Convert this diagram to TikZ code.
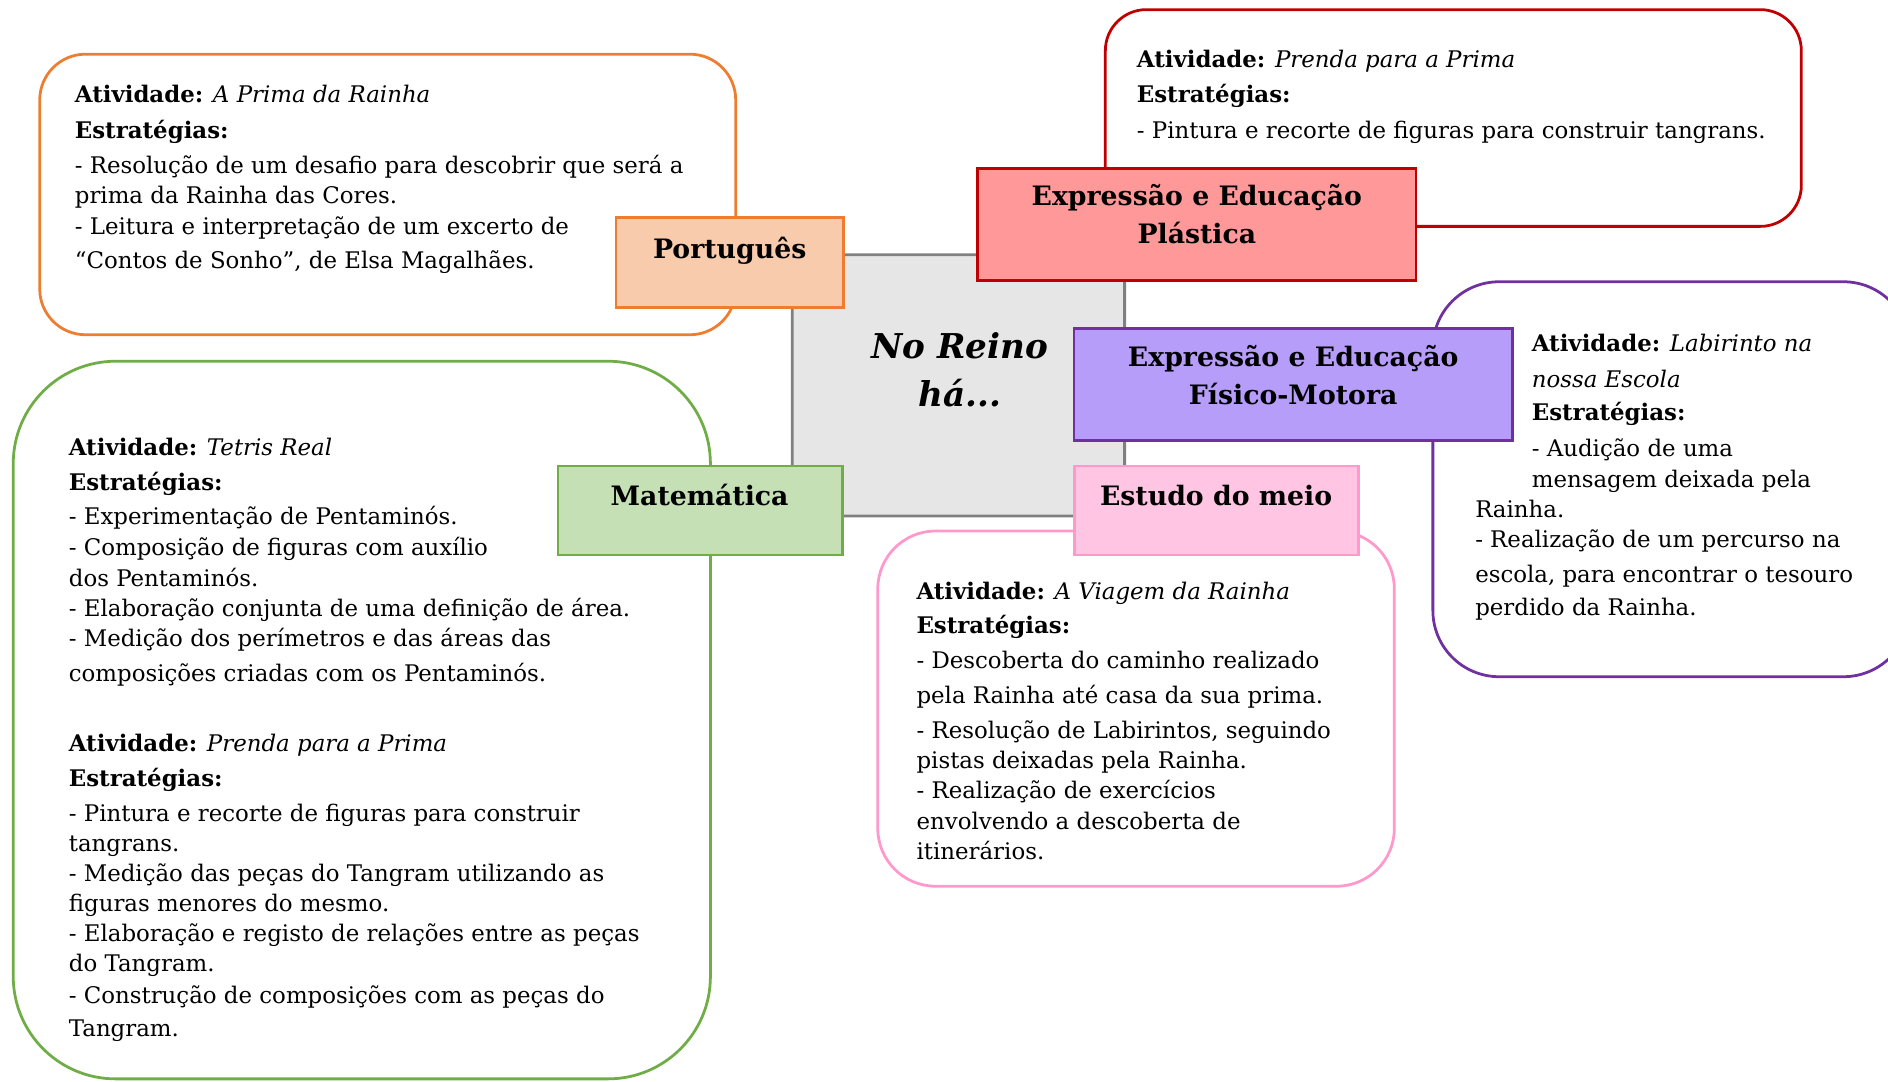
\documentclass[tikz,border=0pt]{standalone}
\usepackage{fontspec}
\setmainfont{DejaVu Serif}
\definecolor{orB}{HTML}{ED7D31}\definecolor{orF}{HTML}{F8CBAD}
\definecolor{rdB}{HTML}{C00000}\definecolor{rdF}{HTML}{FF9999}
\definecolor{puB}{HTML}{7030A0}\definecolor{puF}{HTML}{B79DFA}
\definecolor{grB}{HTML}{70AD47}\definecolor{grF}{HTML}{C5E0B4}
\definecolor{piB}{HTML}{FF99CC}\definecolor{piF}{HTML}{FFC5E3}
\definecolor{gyB}{HTML}{808080}\definecolor{gyF}{HTML}{E6E6E6}
\tikzset{
  callout/.style={rectangle, fill=white, line width=2.3pt, anchor=north west, inner sep=0pt, outer sep=0pt},
  subj/.style={rectangle, line width=2.3pt, anchor=north west, inner sep=0pt, outer sep=0pt},
  title/.style={font=\fontsize{22.2}{31.6}\selectfont\bfseries, align=center, anchor=base, inner sep=0pt},
  body/.style={font=\fontsize{19}{25}\selectfont, align=left, anchor=base west, inner sep=0pt},
}
\newcommand{\At}[1]{\textbf{Atividade:} \textit{#1}}
\newcommand{\Es}{\textbf{Estratégias:}}
\begin{document}
\begin{tikzpicture}[x=1pt,y=-1pt]
\useasboundingbox (0,0) rectangle (1568,898);
\clip (0,0) rectangle (1568,898);
% callouts
\node[callout, draw=orB, rounded corners=38pt, minimum width=578pt, minimum height=233pt] (cpor) at (33,45) {};
\node[callout, draw=rdB, rounded corners=34pt, minimum width=578pt, minimum height=180pt] (cexp) at (918,8) {};
\node[callout, draw=puB, rounded corners=55pt, minimum width=396pt, minimum height=328pt] (cfis) at (1190,234) {};
\node[callout, draw=grB, rounded corners=85pt, minimum width=579pt, minimum height=596pt] (cmat) at (11,300) {};
\node[callout, draw=piB, rounded corners=48pt, minimum width=429pt, minimum height=295pt] (cest) at (729,441) {};
% centre
\node[subj, draw=gyB, fill=gyF, rounded corners=11pt, minimum width=276pt, minimum height=217pt] (centre) at (658,211.5) {};
\node[font=\fontsize{28.4}{40}\selectfont\bfseries\itshape, align=center, anchor=base, inner sep=0pt] (ctxt) at (797,338) {No Reino\\há...};
% subject boxes
\node[subj, draw=orB, fill=orF, minimum width=189pt, minimum height=75pt] (por) at (511.5,180.5) {};
\node[subj, draw=rdB, fill=rdF, minimum width=364pt, minimum height=93pt] (exp) at (812,140) {};
\node[subj, draw=puB, fill=puF, minimum width=364pt, minimum height=93pt] (fis) at (892,273) {};
\node[subj, draw=grB, fill=grF, minimum width=236pt, minimum height=74pt] (mat) at (463.5,387) {};
\node[subj, draw=piB, fill=piF, minimum width=236pt, minimum height=74pt] (est) at (892.5,387) {};
% titles
\node[title] (porT) at (606,215) {Português};
\node[title] (expT) at (994,202) {Expressão e Educação\\Plástica};
\node[title] (fisT) at (1074,335.7) {Expressão e Educação\\Físico-Motora};
\node[title] (matT) at (581,419.5) {Matemática};
\node[title] (estT) at (1010,419.5) {Estudo do meio};
% texts (anchored at the baseline of the last line)
\node[body] (porB) at (62,223) {\At{A Prima da Rainha}\\[5pt]
\Es\\[4pt]
- Resolução de um desafio para descobrir que será a\\
prima da Rainha das Cores.\\[1pt]
- Leitura e interpretação de um excerto de\\[3pt]
“Contos de Sonho”, de Elsa Magalhães.};
\node[body] (expB) at (944,115) {\At{Prenda para a Prima}\\[4pt]
\Es\\[5pt]
- Pintura e recorte de figuras para construir tangrans.};
\node[body] (fisB) at (1225,511.5) {\hspace*{47pt}\At{Labirinto na}\\[5pt]
\hspace*{47pt}\textit{nossa Escola}\\[3pt]
\hspace*{47pt}\Es\\[5pt]
\hspace*{47pt}- Audição de uma\\
\hspace*{47pt}mensagem deixada pela\\
Rainha.\\
- Realização de um percurso na\\[4pt]
escola, para encontrar o tesouro\\[3pt]
perdido da Rainha.};
\node[body] (matB) at (57,861) {\At{Tetris Real}\\[4pt]
\Es\\[4pt]
- Experimentação de Pentaminós.\\
- Composição de figuras com auxílio\\[1pt]
dos Pentaminós.\\
- Elaboração conjunta de uma definição de área.\\
- Medição dos perímetros e das áreas das\\[4pt]
composições criadas com os Pentaminós.\\[33pt]
\At{Prenda para a Prima}\\[4pt]
\Es\\[4pt]
- Pintura e recorte de figuras para construir\\
tangrans.\\
- Medição das peças do Tangram utilizando as\\
figuras menores do mesmo.\\
- Elaboração e registo de relações entre as peças\\
do Tangram.\\[1pt]
- Construção de composições com as peças do\\[3pt]
Tangram.};
\node[body] (estB) at (761,713.5) {\At{A Viagem da Rainha}\\[4pt]
\Es\\[4pt]
- Descoberta do caminho realizado\\[4pt]
pela Rainha até casa da sua prima.\\[4pt]
- Resolução de Labirintos, seguindo\\
pistas deixadas pela Rainha.\\
- Realização de exercícios\\
envolvendo a descoberta de\\
itinerários.};
\end{tikzpicture}
\end{document}
